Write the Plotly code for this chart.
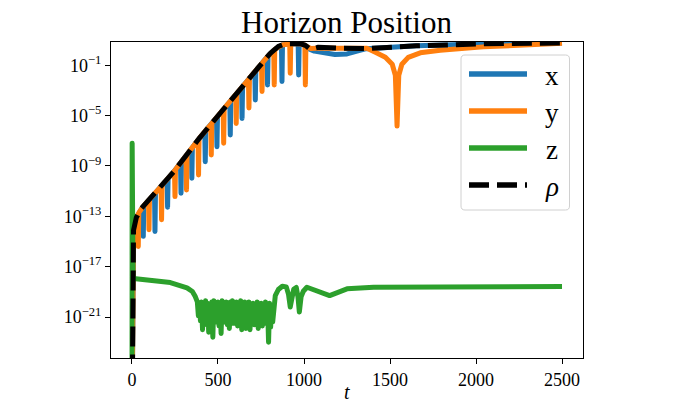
import numpy as np
import plotly.graph_objects as go

# ---- data: time samples and log10 of each horizon coordinate ----
t_rho = [0, 3, 9, 25, 48, 83, 126, 242, 397, 630, 746, 804, 851, 891, 978, 1008,
         1037, 1083, 1211, 1362, 1653, 2043, 2500]
log_rho = [-30, -15.0, -14.1, -13.11, -12.48, -11.93, -11.29, -9.47, -6.70, -2.90, -1.0,
           -0.05, 0.50, 0.70, 0.72, 0.58, 0.27, 0.43, 0.35, 0.32, 0.54, 0.70, 0.77]

t_x = [0, 3, 9, 25, 36.6,
       63, 65.7, 68.5, 98.8,
       131, 133.7, 136.5, 172,
       204, 207, 210, 250,
       282, 285, 288, 317,
       345, 348, 351, 387,
       423, 426, 429, 461,
       491, 494, 497, 533,
       568.5, 571.5, 574.5, 606,
       637, 640, 643, 680,
       714, 717, 720, 756,
       785, 788, 791, 827,
       869, 872, 875, 920,
       966, 969, 972, 1008,
       1030, 1060, 1120, 1180, 1250, 1300, 1350, 1362, 1653, 2043, 2500]
log_x = [-30, -15.0, -14.1, -13.11, -12.79,
         -12.25, -14.59, -12.17, -11.69,
         -11.21, -14.2, -11.13, -10.57,
         -10.07, -12.27, -9.97, -9.33,
         -8.75, -11.16, -8.65, -8.13,
         -7.63, -9.97, -7.53, -6.88,
         -6.28, -8.66, -6.18, -5.66,
         -5.17, -7.47, -5.07, -4.48,
         -3.90, -6.54, -3.80, -3.29,
         -2.79, -5.22, -2.69, -2.08,
         -1.52, -3.75, -1.42, -0.84,
         -0.36, -2.56, -0.26, 0.22,
         0.59, -2.29, 0.62, 0.707,
         0.72, -1.77, 0.72, 0.58,
         0.30, 0.12, -0.05, -0.15, -0.10, 0.05, 0.28, 0.32, 0.54, 0.70, 0.77]

t_y = [0, 3, 9, 25,
       34, 36.6, 39.5, 65.7,
       96, 98.8, 101.5, 133.7,
       169, 172, 175, 207,
       247, 250, 253, 285,
       314, 317, 320, 348,
       384, 387, 390, 426,
       458, 461, 464, 494,
       530, 533, 536, 571.5,
       603, 606, 609, 640,
       677, 680, 683, 717,
       753, 756, 759, 788,
       824, 827, 830, 872,
       917, 920, 923, 969,
       1005, 1008, 1011,
       1040, 1100, 1200, 1366, 1415, 1473, 1513, 1531, 1541, 1551, 1569, 1606,
       1676, 1792, 2042, 2258, 2500]
log_y = [-30, -15.0, -14.1, -13.11,
         -12.86, -15.39, -12.72, -12.20,
         -11.73, -14.06, -11.65, -11.17,
         -10.62, -13.27, -10.52, -10.02,
         -9.38, -11.43, -9.28, -8.70,
         -8.18, -10.9, -8.08, -7.58,
         -6.93, -9.71, -6.83, -6.23,
         -5.71, -8.13, -5.61, -5.12,
         -4.53, -7.2, -4.43, -3.85,
         -3.34, -5.62, -3.24, -2.74,
         -2.13, -4.40, -2.03, -1.47,
         -0.89, -3.08, -0.79, -0.31,
         0.18, -2.56, 0.26, 0.605,
         0.70, -1.63, 0.70, 0.72,
         0.60, -2.56, 0.52,
         0.33, 0.38, 0.36, 0.35, 0.03, -0.37, -0.92, -1.79, -5.83, -1.79, -0.92, -0.37,
         -0.01, 0.19, 0.46, 0.62, 0.74]

t_z = [0, 1, 6, 9, 106, 223, 320, 351, 368,
       380, 386, 392, 398, 404, 410, 416, 422, 428, 434, 440, 446, 452, 458, 464, 470,
       476, 482, 488, 494, 500, 506, 512, 518, 524, 530, 536, 542, 548, 554, 560, 566,
       572, 578, 584, 590, 596, 602, 608, 614, 620, 626, 632, 638, 644, 650, 656, 662,
       668, 674, 680, 686, 692, 698, 704, 710, 716, 722, 728, 734, 740, 746, 752, 758,
       764, 770, 776, 782, 788, 794, 800, 806, 812, 818,
       826, 833, 851, 874, 897, 910, 920, 930, 940, 955, 965, 973, 983, 996, 1017,
       1149, 1250, 1405, 1851, 2500]
log_z = [-30, -7.2, -17.9, -17.94, -18.06, -18.26, -18.68, -18.97, -19.37,
         -19.8, -20.9, -19.9, -21.3, -19.8, -22.0, -20.0, -21.0, -19.7, -21.6, -19.9, -22.2,
         -20.1, -21.2, -19.8, -22.6, -19.7, -21.4, -20.0, -21.1, -19.8, -21.7, -20.0, -22.3,
         -19.7, -21.4, -19.9, -20.8, -19.8, -21.6, -20.0, -21.9, -19.8, -21.0, -19.7, -21.5,
         -20.0, -21.2, -19.8, -21.7, -20.0, -21.0, -19.7, -22.0, -20.1, -21.3, -19.8, -21.9,
         -20.0, -21.1, -19.8, -22.0, -20.1, -21.0, -19.9, -21.6, -20.0, -21.2, -19.8, -21.9,
         -20.0, -21.3, -19.9, -21.7, -20.1, -21.0, -19.8, -21.5, -20.0, -23.0, -19.9, -21.8,
         -20.1, -21.4,
         -20.0, -19.3, -18.81, -18.55, -18.6, -19.2, -20.2, -19.2, -18.8, -18.65, -19.4,
         -20.6, -19.4, -18.95, -18.63, -19.29, -18.76, -18.63, -18.62, -18.58]

x_ticks = [0, 500, 1000, 1500, 2000, 2500]
y_exponents = [-1, -5, -9, -13, -17, -21]

names = ["x", "y", "z", "ρ"]
colors = ["#1f77b4", "#ff7f0e", "#2ca02c", "black"]

# ---- figure geometry (pixels) ----
W, H = 683, 405
L_M, R_M, T_M, B_M = 111, 100, 42, 47
PW, PH = W - L_M - R_M, H - T_M - B_M


def px(xp):
    return (xp - L_M) / PW


def py(yp):
    return (H - B_M - yp) / PH


fig = go.Figure()
series = [(t_x, log_x), (t_y, log_y), (t_z, log_z)]
for (tt, ll), c in zip(series, colors[:3]):
    fig.add_trace(go.Scatter(x=tt, y=10.0 ** np.array(ll), mode="lines",
                             line=dict(color=c, width=5), showlegend=False))
fig.add_trace(go.Scatter(x=t_rho, y=10.0 ** np.array(log_rho), mode="lines",
                         line=dict(color="black", width=5, dash="20px,8px"),
                         showlegend=False))

axis_font = dict(family="Liberation Serif", size=18, color="black")
fig.update_xaxes(range=[-122, 2622], tickvals=x_ticks, ticktext=[str(v) for v in x_ticks],
                 showline=True, mirror=True, linecolor="black", linewidth=1,
                 ticks="outside", ticklen=5, tickwidth=1, tickcolor="black",
                 showgrid=False, zeroline=False, tickfont=axis_font)
fig.update_yaxes(type="log", range=[-24.25, 0.847],
                 tickvals=[10.0 ** e for e in y_exponents],
                 ticktext=["10<sup>−%d</sup>" % (-e) for e in y_exponents],
                 showline=True, mirror=True, linecolor="black", linewidth=1,
                 ticks="outside", ticklen=5, tickwidth=1, tickcolor="black",
                 showgrid=False, zeroline=False, tickfont=axis_font)

# legend frame with rounded corners
bx0, bx1, by0, by1, r = 461, 569.5, 55, 210, 4
pts = [
    ("M", bx0 + r, by0), ("L", bx1 - r, by0), ("Q", bx1, by0, bx1, by0 + r),
    ("L", bx1, by1 - r), ("Q", bx1, by1, bx1 - r, by1), ("L", bx0 + r, by1),
    ("Q", bx0, by1, bx0, by1 - r), ("L", bx0, by0 + r), ("Q", bx0, by0, bx0 + r, by0),
]
path = ""
for p in pts:
    if p[0] == "Q":
        path += "Q%.5f,%.5f %.5f,%.5f " % (px(p[1]), py(p[2]), px(p[3]), py(p[4]))
    else:
        path += "%s%.5f,%.5f " % (p[0], px(p[1]), py(p[2]))
path += "Z"
shapes = [dict(type="path", path=path, xref="paper", yref="paper",
               line=dict(color="#d0d0d0", width=1), fillcolor="rgba(255,255,255,0.8)",
               layer="above")]
annotations = []
row_y = [74, 111, 148, 185]
for name, c, yy in zip(names, colors, row_y):
    shapes.append(dict(type="line", xref="paper", yref="paper",
                       x0=px(469), x1=px(527), y0=py(yy), y1=py(yy),
                       line=dict(color=c, width=5.5,
                                 dash="20px,8px" if name == "ρ" else "solid"),
                       layer="above"))
    label = "<i>ρ</i>" if name == "ρ" else name
    annotations.append(dict(text=label, xref="paper", yref="paper",
                            x=px(551.5), y=py(yy + 2), xanchor="center", yanchor="middle",
                            showarrow=False,
                            font=dict(family="Liberation Serif", size=27, color="black")))

annotations.append(dict(text="Horizon Position", xref="paper", yref="paper",
                        x=px(346.7), y=py(23), xanchor="center", yanchor="middle",
                        showarrow=False,
                        font=dict(family="Liberation Serif", size=31, color="black")))
annotations.append(dict(text="<i>t</i>", xref="paper", yref="paper",
                        x=px(346.7), y=py(392), xanchor="center", yanchor="middle",
                        showarrow=False,
                        font=dict(family="Liberation Serif", size=20, color="black")))

fig.update_layout(width=W, height=H, margin=dict(l=L_M, r=R_M, t=T_M, b=B_M, pad=0),
                  paper_bgcolor="white", plot_bgcolor="white",
                  font=dict(family="Liberation Serif", color="black"),
                  shapes=shapes, annotations=annotations, showlegend=False)

# round line joins so the narrow dips end in rounded tips
post = """
var gd = document.getElementById('{plot_id}');
function roundJoins() {
  gd.querySelectorAll('.scatterlayer path.js-line').forEach(function (p) {
    p.style.strokeLinejoin = 'round';
  });
}
roundJoins();
gd.on('plotly_afterplot', roundJoins);
"""
fig.write_html("out.html", post_script=post)
